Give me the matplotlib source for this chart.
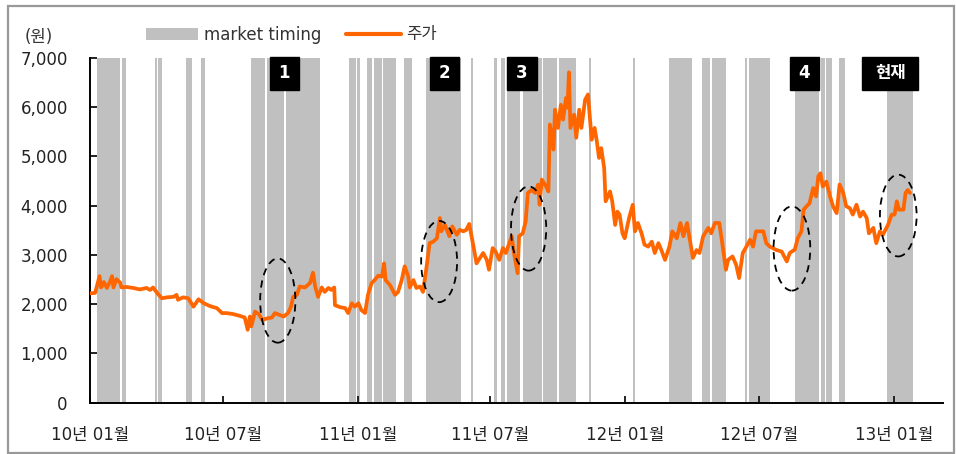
import matplotlib
matplotlib.use('Agg')
import matplotlib.pyplot as plt
import matplotlib.dates as mdates
from matplotlib.patches import Ellipse, Rectangle
from matplotlib.lines import Line2D
import numpy as np

plt.rcParams['font.family'] = ['DejaVu Sans', 'Noto Sans CJK KR']

# price (원), x = days since 2010-01-01
base = np.datetime64('2010-01-01')
price_day = [0, 7, 13, 15, 19, 23, 27, 30, 32, 36, 41, 43, 50, 59, 68, 77, 82, 86, 92, 98,
             105, 114, 118, 120, 127, 134, 141, 148, 155, 164, 173, 180, 186, 195, 205, 211, 215, 218, 220, 225,
             230, 235, 241, 248, 252, 259, 264, 270, 274, 277, 282, 286, 293, 300, 304, 307, 311, 316, 320, 325,
             329, 333, 334, 341, 348, 352, 357, 361, 366, 370, 375, 379, 384, 388, 393, 398, 401, 403, 409, 416,
             420, 425, 429, 434, 436, 441, 445, 450, 454, 459, 463, 468, 473, 477, 479, 484, 490, 494, 500, 504,
             509, 513, 517, 522, 527, 536, 541, 544, 549, 553, 558, 563, 567, 570, 575, 578, 583, 585, 590, 594,
             597, 602, 607, 611, 613, 616, 622, 625, 627, 632, 634, 638, 642, 645, 649, 651, 653, 655, 660, 663,
             667, 670, 675, 679, 684, 688, 691, 694, 697, 701, 703, 709, 712, 716, 719, 722, 726, 729, 735, 740,
             743, 747, 752, 756, 761, 766, 770, 775, 779, 784, 790, 794, 800, 805, 809, 814, 822, 827, 831, 836,
             843, 847, 852, 858, 862, 867, 870, 876, 881, 885, 890, 895, 900, 904, 908, 913, 918, 922, 927, 931,
             936, 943, 950, 954, 961, 965, 970, 973, 977, 981, 986, 990, 993, 996, 999, 1004, 1009, 1013, 1018, 1022,
             1027, 1031, 1036, 1040, 1045, 1050, 1054, 1059, 1062, 1068, 1072, 1077, 1081, 1088, 1093, 1097, 1100, 1103, 1109, 1112,
             1115, 1118]
price = [2220, 2230, 2570, 2340, 2450, 2330, 2450, 2570, 2340, 2510, 2440, 2340, 2350, 2330, 2300, 2330, 2290, 2340, 2220, 2120,
         2140, 2150, 2190, 2090, 2140, 2120, 1950, 2100, 2020, 1960, 1920, 1820, 1820, 1800, 1760, 1730, 1480, 1750, 1550, 1850,
         1800, 1680, 1710, 1730, 1820, 1780, 1750, 1820, 1950, 2150, 2190, 2360, 2340, 2430, 2640, 2360, 2150, 2340, 2250, 2330,
         2290, 2340, 1980, 1940, 1920, 1820, 2020, 1950, 2020, 1880, 1820, 2190, 2430, 2490, 2580, 2560, 2830, 2490, 2390, 2190,
         2250, 2490, 2770, 2560, 2340, 2490, 2330, 2360, 2250, 2770, 3240, 3270, 3340, 3750, 3480, 3610, 3380, 3580, 3410, 3510,
         3480, 3510, 3630, 3240, 2830, 3040, 2900, 2700, 3140, 3070, 2900, 3140, 3040, 3170, 3380, 3040, 2630, 3380, 3440, 3680,
         4260, 4320, 4260, 4430, 4020, 4530, 4390, 4290, 5650, 5140, 5950, 5580, 6050, 5750, 6190, 5990, 6710, 5580, 5850, 5380,
         5950, 5580, 6150, 6260, 5340, 5580, 5310, 4970, 5170, 4770, 4090, 4290, 4090, 3610, 3880, 3820, 3440, 3340, 3750, 4020,
         3480, 3650, 3440, 3210, 3170, 3270, 3040, 3240, 3100, 2900, 3170, 3480, 3340, 3650, 3380, 3650, 2940, 3100, 3040, 3380,
         3550, 3440, 3650, 3650, 3240, 2700, 2900, 2970, 2800, 2530, 3040, 3170, 3310, 3170, 3480, 3480, 3480, 3240, 3170, 3140,
         3100, 3070, 2870, 3040, 3110, 3340, 3480, 3920, 3990, 4050, 4360, 4190, 4600, 4660, 4390, 4490, 4190, 3990, 3850, 4430,
         4260, 3990, 3950, 3820, 4020, 3780, 3880, 3750, 3440, 3550, 3240, 3480, 3410, 3610, 3820, 3820, 4090, 3920, 3920, 4260,
         4320, 4260]

# market timing periods
timing_start = ['2010-01-10', '2010-02-13', '2010-03-30', '2010-04-04', '2010-05-12', '2010-06-02',
                '2010-08-09', '2010-08-31', '2010-09-25', '2010-10-15', '2010-12-20', '2010-12-31',
                '2011-01-13', '2011-01-23', '2011-02-05', '2011-03-05', '2011-04-04', '2011-06-04',
                '2011-07-06', '2011-07-15', '2011-07-23', '2011-08-14', '2011-09-10', '2011-10-02',
                '2011-11-12', '2012-01-11', '2012-02-29', '2012-04-15', '2012-04-28', '2012-06-12',
                '2012-06-17', '2012-08-19', '2012-09-23', '2012-10-01', '2012-10-18', '2012-12-22']
timing_end = ['2010-02-11', '2010-02-19', '2010-04-02', '2010-04-09', '2010-05-20', '2010-06-07',
              '2010-08-27', '2010-09-22', '2010-10-14', '2010-11-10', '2010-12-29', '2011-01-04',
              '2011-01-20', '2011-02-03', '2011-02-22', '2011-03-16', '2011-05-22', '2011-06-07',
              '2011-07-10', '2011-07-21', '2011-08-10', '2011-09-09', '2011-09-30', '2011-10-26',
              '2011-11-15', '2012-01-14', '2012-04-01', '2012-04-26', '2012-05-17', '2012-06-15',
              '2012-07-16', '2012-09-21', '2012-09-29', '2012-10-09', '2012-10-27', '2013-01-27']

tick_dates = ['2010-01-01', '2010-07-01', '2011-01-01', '2011-07-01', '2012-01-01', '2012-07-01', '2013-01-01']
tick_labels = ['10년 01월', '10년 07월', '11년 01월', '11년 07월', '12년 01월', '12년 07월', '13년 01월']

mark_labels = ['1', '2', '3', '4', '현재']
mark_left = ['2010-09-03', '2011-04-09', '2011-07-24', '2012-08-12', '2012-11-19']
mark_width = [40, 40, 40, 40, 76]

circle_center = ['2010-09-14', '2011-04-22', '2011-08-22', '2012-08-15', '2013-01-07']
circle_value = [2074, 2867, 3537, 3131, 3800]
circle_w = [48, 49, 48, 50, 50]
circle_h = [1710, 1650, 1710, 1710, 1660]


def dnum(s):
    return mdates.date2num(np.datetime64(s))


W, H = 956, 454
fig = plt.figure(figsize=(W / 100, H / 100), dpi=100)
ax = fig.add_axes([90 / W, 1 - 402.7 / H, (943 - 90) / W, (402.7 - 58) / H])

for s, e in zip(timing_start, timing_end):
    ax.axvspan(dnum(s), dnum(e), color='#c0c0c0', lw=0, zorder=1)

dates = base + np.array(price_day).astype('timedelta64[D]')
ax.plot(mdates.date2num(dates), price, color='#ff6600', lw=2.7, zorder=3,
        solid_joinstyle='round', solid_capstyle='round')

for c, v, w, h in zip(circle_center, circle_value, circle_w, circle_h):
    ax.add_patch(Ellipse((dnum(c), v), w, h, fill=False, ec='black', lw=1.3,
                         ls=(0, (4, 3)), zorder=4))

for lab, left, w in zip(mark_labels, mark_left, mark_width):
    x0 = dnum(left)
    ax.add_patch(Rectangle((x0, 6357), w, 665, color='black', zorder=5, clip_on=False))
    ax.text(x0 + w / 2, 6690, lab, color='white', fontsize=12, fontweight='bold',
            ha='center', va='center', zorder=6)

ax.set_xlim(dnum('2010-01-01'), dnum('2013-03-09'))
ax.set_ylim(0, 7000)
ax.set_yticks(range(0, 7001, 1000))
ax.set_yticklabels(['{:,}'.format(v) for v in range(0, 7001, 1000)])
ax.set_xticks([dnum(d) for d in tick_dates])
ax.set_xticklabels(tick_labels)

for sp in ['top', 'right']:
    ax.spines[sp].set_visible(False)
for sp in ['left', 'bottom']:
    ax.spines[sp].set_linewidth(1.4)
ax.tick_params(axis='both', direction='in', length=5, width=1.4, labelsize=12, colors='#222222')
ax.tick_params(axis='y', pad=16)
ax.tick_params(axis='x', pad=17)


def fx(x):
    return x / W


def fy(y):
    return 1 - y / H


# legend & unit
fig.add_artist(Rectangle((fx(146), fy(40)), 51.7 / W, 12.3 / H, transform=fig.transFigure,
                         color='#c0c0c0', lw=0))
fig.text(fx(204), fy(34.5), 'market timing', fontsize=12, va='center', color='#333333')
fig.add_artist(Line2D([fx(346), fx(400.7)], [fy(34), fy(34)], transform=fig.transFigure,
                      color='#ff6600', lw=3, solid_capstyle='round'))
fig.text(fx(406), fy(34.5), '주가', fontsize=12, va='center', color='#333333')
fig.text(fx(25), fy(37), '(원)', fontsize=12, va='center', color='#333333')

# outer frame
fig.add_artist(Rectangle((fx(8), fy(453)), (954 - 8) / W, (453 - 5.5) / H, transform=fig.transFigure,
                         fill=False, ec='#999999', lw=1.6))

fig.savefig('out.png', dpi=100)
